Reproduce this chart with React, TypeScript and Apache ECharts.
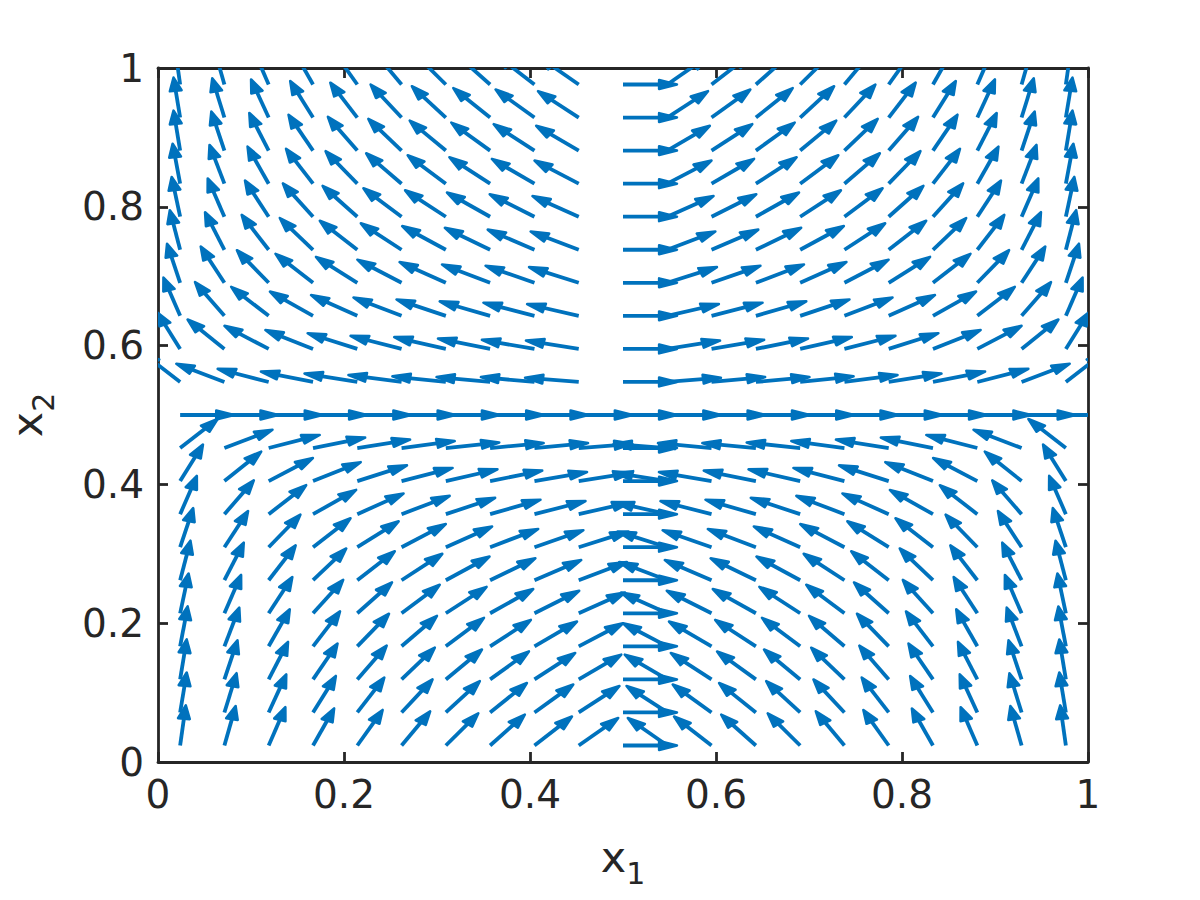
import React, { useEffect, useRef } from "react";
import * as echarts from "echarts";

// grid positions of the arrow tails (x1 and x2)
const gridX = [0.0238, 0.0714, 0.119, 0.1667, 0.2143, 0.2619, 0.3095, 0.3571, 0.4048, 0.4524, 0.5,
  0.5476, 0.5952, 0.6429, 0.6905, 0.7381, 0.7857, 0.8333, 0.881, 0.9286, 0.9762];
const gridY = [0.0238, 0.0714, 0.119, 0.1667, 0.2143, 0.2619, 0.3095, 0.3571, 0.4048, 0.4524, 0.5,
  0.5476, 0.5952, 0.6429, 0.6905, 0.7381, 0.7857, 0.8333, 0.881, 0.9286, 0.9762];

// arrow directions (degrees, in data space), one row per x2 value, bottom to top
const angleRows = [
  [84, 78, 72, 67, 62, 58, 53, 50, 46, 43, 0, 137, 134, 130, 127, 122, 118, 113, 108, 102, 96],
  [83, 77, 71, 65, 60, 55, 51, 47, 44, 41, 0, 139, 136, 133, 129, 125, 120, 115, 109, 103, 97],
  [83, 76, 69, 63, 57, 52, 48, 44, 41, 38, 0, 142, 139, 136, 132, 128, 123, 117, 111, 104, 97],
  [82, 74, 67, 60, 54, 49, 45, 41, 38, 35, 0, 145, 142, 139, 135, 131, 126, 120, 113, 106, 98],
  [81, 72, 64, 56, 50, 45, 41, 37, 34, 31, 0, 149, 146, 143, 139, 135, 130, 124, 116, 108, 99],
  [79, 69, 60, 52, 46, 41, 36, 33, 30, 27, 0, 153, 150, 147, 144, 139, 134, 128, 120, 111, 101],
  [76, 64, 54, 46, 40, 35, 31, 27, 25, 23, 0, 157, 155, 153, 149, 145, 140, 134, 126, 116, 104],
  [72, 57, 46, 37, 31, 27, 24, 21, 19, 17, 0, 163, 161, 159, 156, 153, 149, 143, 134, 123, 108],
  [65, 47, 35, 28, 23, 19, 17, 15, 13, 12, 0, 168, 167, 165, 163, 161, 157, 152, 145, 133, 115],
  [46, 27, 19, 15, 12, 10, 8, 7, 7, 6, 0, 174, 173, 173, 172, 170, 168, 165, 161, 153, 134],
  [0, 0, 0, 0, 0, 0, 0, 0, 0, 0, 0, 0, 0, 0, 0, 0, 0, 0, 0, 0, 0],
  [134, 153, 161, 165, 168, 170, 172, 173, 173, 174, 0, 6, 7, 7, 8, 10, 12, 15, 19, 27, 46],
  [115, 133, 145, 152, 157, 161, 163, 165, 167, 168, 0, 12, 13, 15, 17, 19, 23, 28, 35, 47, 65],
  [108, 123, 134, 143, 149, 153, 156, 159, 161, 163, 0, 17, 19, 21, 24, 27, 31, 37, 46, 57, 72],
  [104, 116, 126, 134, 140, 145, 149, 153, 155, 157, 0, 23, 25, 27, 31, 35, 40, 46, 54, 64, 76],
  [101, 111, 120, 128, 134, 139, 144, 147, 150, 153, 0, 27, 30, 33, 36, 41, 46, 52, 60, 69, 79],
  [99, 108, 116, 124, 130, 135, 139, 143, 146, 149, 0, 31, 34, 37, 41, 45, 50, 56, 64, 72, 81],
  [98, 106, 113, 120, 126, 131, 135, 139, 142, 145, 0, 35, 38, 41, 45, 49, 54, 60, 67, 74, 82],
  [97, 104, 111, 117, 123, 128, 132, 136, 139, 142, 0, 38, 41, 44, 48, 52, 57, 63, 69, 76, 83],
  [97, 103, 109, 115, 120, 125, 129, 133, 136, 139, 0, 41, 44, 47, 51, 55, 60, 65, 71, 77, 83],
  [96, 102, 108, 113, 118, 122, 127, 130, 134, 137, 0, 43, 46, 50, 53, 58, 62, 67, 72, 78, 84],
];

const FONT = "DejaVu Sans";
const AXIS_COLOR = "#262626";
const ARROW_COLOR = "#0072BD";

export default function App() {
  const ref = useRef<HTMLDivElement>(null);
  useEffect(() => {
    const chart = echarts.init(ref.current!, null, { renderer: "svg" });
    const data: number[][] = [];
    angleRows.forEach((row, j) => row.forEach((a, i) => data.push([gridX[i], gridY[j], a])));
    const L = 0.058;
    const alpha = 0.33;
    const beta = 0.33;
    const labelSize = 39;
    const rich = {
      v: { fontSize: 43, fontFamily: FONT, color: AXIS_COLOR, verticalAlign: "top", lineHeight: 53 },
      s: { fontSize: 30, fontFamily: FONT, color: AXIS_COLOR, verticalAlign: "bottom", lineHeight: 53 },
    };
    const baseAxis = {
      type: "value",
      min: 0,
      max: 1,
      interval: 0.2,
      axisLine: { show: true, onZero: false, lineStyle: { color: AXIS_COLOR, width: 2.8 } },
      axisTick: { show: true, inside: true, length: 10, lineStyle: { color: AXIS_COLOR, width: 2.8 } },
      splitLine: { show: false },
    };
    chart.setOption({
      animation: false,
      grid: { left: 158, right: 112, top: 68, bottom: 138, containLabel: false, outerBoundsMode: "none" },
      xAxis: [
        {
          ...baseAxis,
          position: "bottom",
          axisLabel: { fontSize: labelSize, fontFamily: FONT, color: AXIS_COLOR, margin: 13 },
          name: "{v|x}{s|1}",
          nameLocation: "middle",
          nameGap: 73,
          nameTextStyle: { rich },
        },
        { ...baseAxis, position: "top", axisLabel: { show: false } },
      ],
      yAxis: [
        {
          ...baseAxis,
          position: "left",
          axisLabel: { fontSize: labelSize, fontFamily: FONT, color: AXIS_COLOR, margin: 14 },
          name: "{v|x}{s|2}",
          nameLocation: "middle",
          nameGap: 100,
          nameTextStyle: { rich },
        },
        { ...baseAxis, position: "right", axisLabel: { show: false } },
      ],
      series: [
        {
          type: "custom",
          xAxisIndex: 0,
          yAxisIndex: 0,
          clip: true,
          data,
          encode: { x: 0, y: 1 },
          renderItem: (params: any, api: any) => {
            const x = api.value(0);
            const y = api.value(1);
            const a = (api.value(2) * Math.PI) / 180;
            const u = L * Math.cos(a);
            const v = L * Math.sin(a);
            const tail = api.coord([x, y]);
            const tip = api.coord([x + u, y + v]);
            const mid = api.coord([x + u - 0.5 * alpha * u, y + v - 0.5 * alpha * v]);
            const b1 = api.coord([x + u - alpha * (u + beta * v), y + v - alpha * (v - beta * u)]);
            const b2 = api.coord([x + u - alpha * (u - beta * v), y + v - alpha * (v + beta * u)]);
            return {
              type: "group",
              children: [
                {
                  type: "line",
                  shape: { x1: tail[0], y1: tail[1], x2: mid[0], y2: mid[1] },
                  style: { stroke: ARROW_COLOR, lineWidth: 3.8 },
                },
                {
                  type: "polygon",
                  shape: { points: [b1, tip, b2] },
                  style: { fill: ARROW_COLOR, stroke: ARROW_COLOR, lineWidth: 2.6, lineJoin: "round" },
                },
              ],
            };
          },
        },
      ],
    });
    return () => chart.dispose();
  }, []);
  return (
    <div
      ref={ref}
      style={{ position: "absolute", left: 0, top: 0, width: 1200, height: 900, background: "#fff" }}
    />
  );
}
